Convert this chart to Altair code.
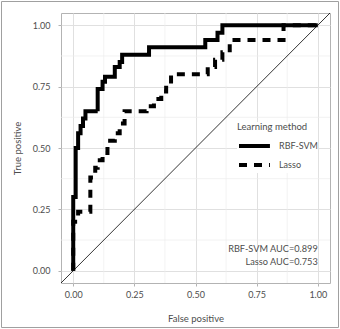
import altair as alt
import pandas as pd

# ROC vertices (top of each vertical run), drawn as step-after lines
methods = ["RBF-SVM", "Lasso"]
svm_fpr = [0, 0, 0.01, 0.02, 0.03, 0.04, 0.05, 0.10, 0.12, 0.13, 0.17, 0.19, 0.20, 0.31, 0.54, 0.59, 0.61, 1.0]
svm_tpr = [0, 0.30, 0.50, 0.56, 0.59, 0.62, 0.65, 0.74, 0.77, 0.79, 0.83, 0.85, 0.88, 0.91, 0.94, 0.97, 1.0, 1.0]
lasso_fpr = [0, 0, 0.02, 0.07, 0.09, 0.10, 0.12, 0.14, 0.17, 0.19, 0.21, 0.30, 0.33, 0.36, 0.38, 0.40, 0.55, 0.58, 0.61, 0.64, 0.86, 1.0]
lasso_tpr = [0, 0.20, 0.24, 0.38, 0.42, 0.45, 0.48, 0.53, 0.56, 0.60, 0.65, 0.67, 0.70, 0.73, 0.76, 0.80, 0.83, 0.86, 0.89, 0.94, 1.0, 1.0]

auc_labels = ["RBF-SVM AUC=0.899", "Lasso AUC=0.753"]
auc_x = [1.0, 1.0]
auc_y = [0.088, 0.035]

major_ticks = [0, 0.25, 0.5, 0.75, 1]
minor_ticks = [0.125, 0.375, 0.625, 0.875]
diag = [-0.05, 1.05]

rows = []
for m, fs, ts in [("RBF-SVM", svm_fpr, svm_tpr), ("Lasso", lasso_fpr, lasso_tpr)]:
    for i, (f, t) in enumerate(zip(fs, ts)):
        rows.append({"method": m, "fpr": f, "tpr": t, "i": i})
roc = pd.DataFrame(rows)

grey = "#4d4d4d"
font = "Lato"

xs = alt.Scale(domain=[-0.05, 1.05], nice=False, zero=False)
ys = alt.Scale(domain=[-0.05, 1.05], nice=False, zero=False)

x_axis = alt.Axis(values=major_ticks, format=".2f", title="False positive",
                  gridColor="#e0e0e0", gridWidth=1, domain=False,
                  tickColor="#b3b3b3", tickSize=3, labelPadding=4,
                  labelColor=grey, labelFontSize=9, labelFont=font,
                  titleColor=grey, titleFontSize=9.5, titleFont=font,
                  titleFontWeight="normal", titlePadding=14)
y_axis = alt.Axis(values=major_ticks, format=".2f", title="True positive",
                  gridColor="#e0e0e0", gridWidth=1, domain=False,
                  tickColor="#b3b3b3", tickSize=3, labelPadding=8,
                  labelColor=grey, labelFontSize=9, labelFont=font,
                  titleColor=grey, titleFontSize=9.5, titleFont=font,
                  titleFontWeight="normal", titlePadding=10)

minor_df = pd.DataFrame({"v": minor_ticks})
minor_x = alt.Chart(minor_df).mark_rule(color="#ececec", strokeWidth=0.7).encode(
    x=alt.X("v:Q", scale=xs, axis=x_axis))
minor_y = alt.Chart(minor_df).mark_rule(color="#ececec", strokeWidth=0.7).encode(
    y=alt.Y("v:Q", scale=ys, axis=y_axis))

diag_line = alt.Chart(pd.DataFrame({"a": diag, "b": diag})).mark_line(
    color="black", strokeWidth=0.8).encode(
    x=alt.X("a:Q", scale=xs, axis=x_axis), y=alt.Y("b:Q", scale=ys, axis=y_axis))

# legend key: a long horizontal stroke starting at the symbol box's left edge
key_path = "M-1,0H2.64"

curves = alt.Chart(roc).mark_line(color="black", strokeWidth=4, interpolate="step-after",
                                  strokeCap="butt").encode(
    x=alt.X("fpr:Q", scale=xs, axis=x_axis),
    y=alt.Y("tpr:Q", scale=ys, axis=y_axis),
    order="i:Q",
    strokeDash=alt.StrokeDash(
        "method:N",
        scale=alt.Scale(domain=methods, range=[[1, 0], [8, 7]]),
        legend=alt.Legend(title="Learning method", orient="none",
                          legendX=176, legendY=109,
                          titleFont=font, titleFontSize=9.5, titleFontWeight="normal",
                          titleColor=grey, titlePadding=4,
                          labelFont=font, labelFontSize=9, labelColor=grey,
                          labelOffset=21, symbolType=key_path, symbolSize=289,
                          symbolStrokeWidth=4, symbolStrokeColor="black",
                          symbolFillColor="transparent",
                          rowPadding=0, fillColor="white")),
)

auc_text = alt.Chart(pd.DataFrame({"x": auc_x, "y": auc_y, "label": auc_labels})).mark_text(
    align="right", baseline="middle", font=font, fontSize=9.2, color=grey).encode(
    x=alt.X("x:Q", scale=xs, axis=x_axis), y=alt.Y("y:Q", scale=ys, axis=y_axis),
    text="label:N")

# frame around the whole figure
frame = alt.Chart(pd.DataFrame({"k": [0]})).mark_rect(
    fill=None, stroke="#a0a0a0", strokeWidth=1).encode(
    x=alt.value(-59.5), x2=alt.value(277.5), y=alt.value(-11.5), y2=alt.value(314.5))

chart = alt.layer(minor_x, minor_y, diag_line, curves, auc_text, frame).properties(
    width=269, height=270,
    autosize=alt.AutoSizeParams(type="none"),
    padding={"left": 61, "top": 13, "right": 10, "bottom": 46},
    background="white",
).configure_view(stroke="#b3b3b3", strokeWidth=1)

chart.save("out.html", embed_options={"renderer": "svg", "actions": False})
